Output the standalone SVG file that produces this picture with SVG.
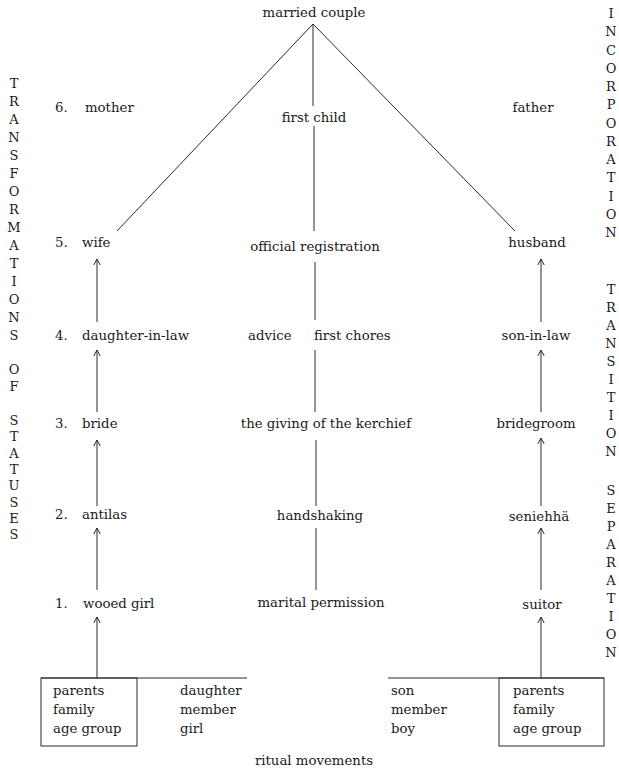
<svg xmlns="http://www.w3.org/2000/svg" width="619" height="771" viewBox="0 0 619 771">
<style>
text{font-family:"DejaVu Serif","Liberation Serif",serif;font-size:13.3px;fill:#1a1a1a}
.m{text-anchor:middle}
.col{text-anchor:middle;font-size:13px}
.ln{stroke:#2a2a2a;stroke-width:1;fill:none}
.ar{stroke:#2a2a2a;stroke-width:1;fill:none;marker-end:url(#ah)}
.box{stroke:#2a2a2a;stroke-width:1;fill:none}
</style>
<defs>
<marker id="ah" viewBox="-8 -5 10 10" refX="0" refY="0" markerWidth="10" markerHeight="10" markerUnits="userSpaceOnUse" orient="auto">
<path d="M-6,-3.2 L0,0 L-6,3.2" fill="none" stroke="#2a2a2a" stroke-width="1"/>
</marker>
</defs>

<g id="connectors">
<line class="ln" x1="313" y1="24" x2="117" y2="231"/>
<line class="ln" x1="313" y1="24" x2="515" y2="231"/>
<line class="ln" x1="313" y1="24" x2="313" y2="106"/>
<line class="ln" x1="314" y1="126" x2="314" y2="231"/>
<line class="ln" x1="315" y1="262" x2="315" y2="320"/>
<line class="ln" x1="315" y1="350" x2="315" y2="412"/>
<line class="ln" x1="316" y1="440" x2="316" y2="506"/>
<line class="ln" x1="316" y1="528" x2="316" y2="590"/>
<line class="ar" x1="97" y1="678" x2="97" y2="617"/>
<line class="ar" x1="97" y1="590" x2="97" y2="528"/>
<line class="ar" x1="97" y1="506" x2="97" y2="440"/>
<line class="ar" x1="97" y1="412" x2="97" y2="350"/>
<line class="ar" x1="97" y1="322" x2="97" y2="259"/>
<line class="ar" x1="541" y1="678" x2="541" y2="617"/>
<line class="ar" x1="541" y1="590" x2="541" y2="528"/>
<line class="ar" x1="541" y1="506" x2="541" y2="438"/>
<line class="ar" x1="541" y1="412" x2="541" y2="350"/>
<line class="ar" x1="541" y1="322" x2="541" y2="259"/>
<line class="ln" x1="41" y1="678" x2="247" y2="678"/>
<line class="ln" x1="388" y1="678" x2="604" y2="678"/>
</g>

<g id="married-couple"><text class="m" x="314" y="17">married couple</text></g>

<g id="mother"><text x="55" y="112">6.</text><text x="85" y="112">mother</text></g>
<g id="first-child"><text class="m" x="314" y="122">first child</text></g>
<g id="father"><text class="m" x="533" y="112">father</text></g>

<g id="wife"><text x="55" y="247">5.</text><text x="82" y="247">wife</text></g>
<g id="official-registration"><text class="m" x="315" y="251">official registration</text></g>
<g id="husband"><text class="m" x="537" y="247">husband</text></g>

<g id="daughter-in-law"><text x="55" y="340">4.</text><text x="82" y="340">daughter-in-law</text></g>
<g id="advice"><text x="248" y="340">advice</text></g>
<g id="first-chores"><text x="314" y="340">first chores</text></g>
<g id="son-in-law"><text class="m" x="536" y="340">son-in-law</text></g>

<g id="bride"><text x="55" y="428">3.</text><text x="82" y="428">bride</text></g>
<g id="kerchief"><text class="m" x="326" y="428">the giving of the kerchief</text></g>
<g id="bridegroom"><text class="m" x="536" y="428">bridegroom</text></g>

<g id="antilas"><text x="55" y="519">2.</text><text x="82" y="519">antilas</text></g>
<g id="handshaking"><text class="m" x="320" y="520">handshaking</text></g>
<g id="seniehha"><text class="m" x="539" y="521">seniehhä</text></g>

<g id="wooed-girl"><text x="55" y="608">1.</text><text x="83" y="608">wooed girl</text></g>
<g id="marital-permission"><text class="m" x="321" y="607">marital permission</text></g>
<g id="suitor"><text class="m" x="542" y="609">suitor</text></g>

<g id="left-box">
<rect class="box" x="41" y="678" width="96" height="68"/>
<text x="53" y="695">parents</text>
<text x="53" y="714">family</text>
<text x="53" y="733">age group</text>
</g>
<g id="left-roles">
<text x="180" y="695">daughter</text>
<text x="180" y="714">member</text>
<text x="180" y="733">girl</text>
</g>
<g id="right-roles">
<text x="391" y="695">son</text>
<text x="391" y="714">member</text>
<text x="391" y="733">boy</text>
</g>
<g id="right-box">
<rect class="box" x="499" y="678" width="105" height="68"/>
<text x="513" y="695">parents</text>
<text x="513" y="714">family</text>
<text x="513" y="733">age group</text>
</g>
<g id="ritual-movements"><text class="m" x="314" y="765">ritual movements</text></g>

<g id="transformations-of-statuses">
<text class="col"><tspan x="14" y="88">T</tspan><tspan x="14" dy="18">R</tspan><tspan x="14" dy="18">A</tspan><tspan x="14" dy="18">N</tspan><tspan x="14" dy="18">S</tspan><tspan x="14" dy="18">F</tspan><tspan x="14" dy="18">O</tspan><tspan x="14" dy="18">R</tspan><tspan x="14" dy="18">M</tspan><tspan x="14" dy="18">A</tspan><tspan x="14" dy="18">T</tspan><tspan x="14" dy="18">I</tspan><tspan x="14" dy="18">O</tspan><tspan x="14" dy="18">N</tspan><tspan x="14" dy="18">S</tspan><tspan x="14" y="374">O</tspan><tspan x="14" dy="17">F</tspan><tspan x="14" y="425">S</tspan><tspan x="14" dy="16.3">T</tspan><tspan x="14" dy="16.3">A</tspan><tspan x="14" dy="16.3">T</tspan><tspan x="14" dy="16.3">U</tspan><tspan x="14" dy="16.3">S</tspan><tspan x="14" dy="16.3">E</tspan><tspan x="14" dy="16.3">S</tspan></text>
</g>
<g id="incorporation">
<text class="col"><tspan x="611" y="18">I</tspan><tspan x="611" dy="18.25">N</tspan><tspan x="611" dy="18.25">C</tspan><tspan x="611" dy="18.25">O</tspan><tspan x="611" dy="18.25">R</tspan><tspan x="611" dy="18.25">P</tspan><tspan x="611" dy="18.25">O</tspan><tspan x="611" dy="18.25">R</tspan><tspan x="611" dy="18.25">A</tspan><tspan x="611" dy="18.25">T</tspan><tspan x="611" dy="18.25">I</tspan><tspan x="611" dy="18.25">O</tspan><tspan x="611" dy="18.25">N</tspan></text>
</g>
<g id="transition-separation">
<text class="col"><tspan x="611" y="294">T</tspan><tspan x="611" dy="18">R</tspan><tspan x="611" dy="18">A</tspan><tspan x="611" dy="18">N</tspan><tspan x="611" dy="18">S</tspan><tspan x="611" dy="18">I</tspan><tspan x="611" dy="18">T</tspan><tspan x="611" dy="18">I</tspan><tspan x="611" dy="18">O</tspan><tspan x="611" dy="18">N</tspan><tspan x="611" y="495">S</tspan><tspan x="611" dy="18">E</tspan><tspan x="611" dy="18">P</tspan><tspan x="611" dy="18">A</tspan><tspan x="611" dy="18">R</tspan><tspan x="611" dy="18">A</tspan><tspan x="611" dy="18">T</tspan><tspan x="611" dy="18">I</tspan><tspan x="611" dy="18">O</tspan><tspan x="611" dy="18">N</tspan></text>
</g>
</svg>
